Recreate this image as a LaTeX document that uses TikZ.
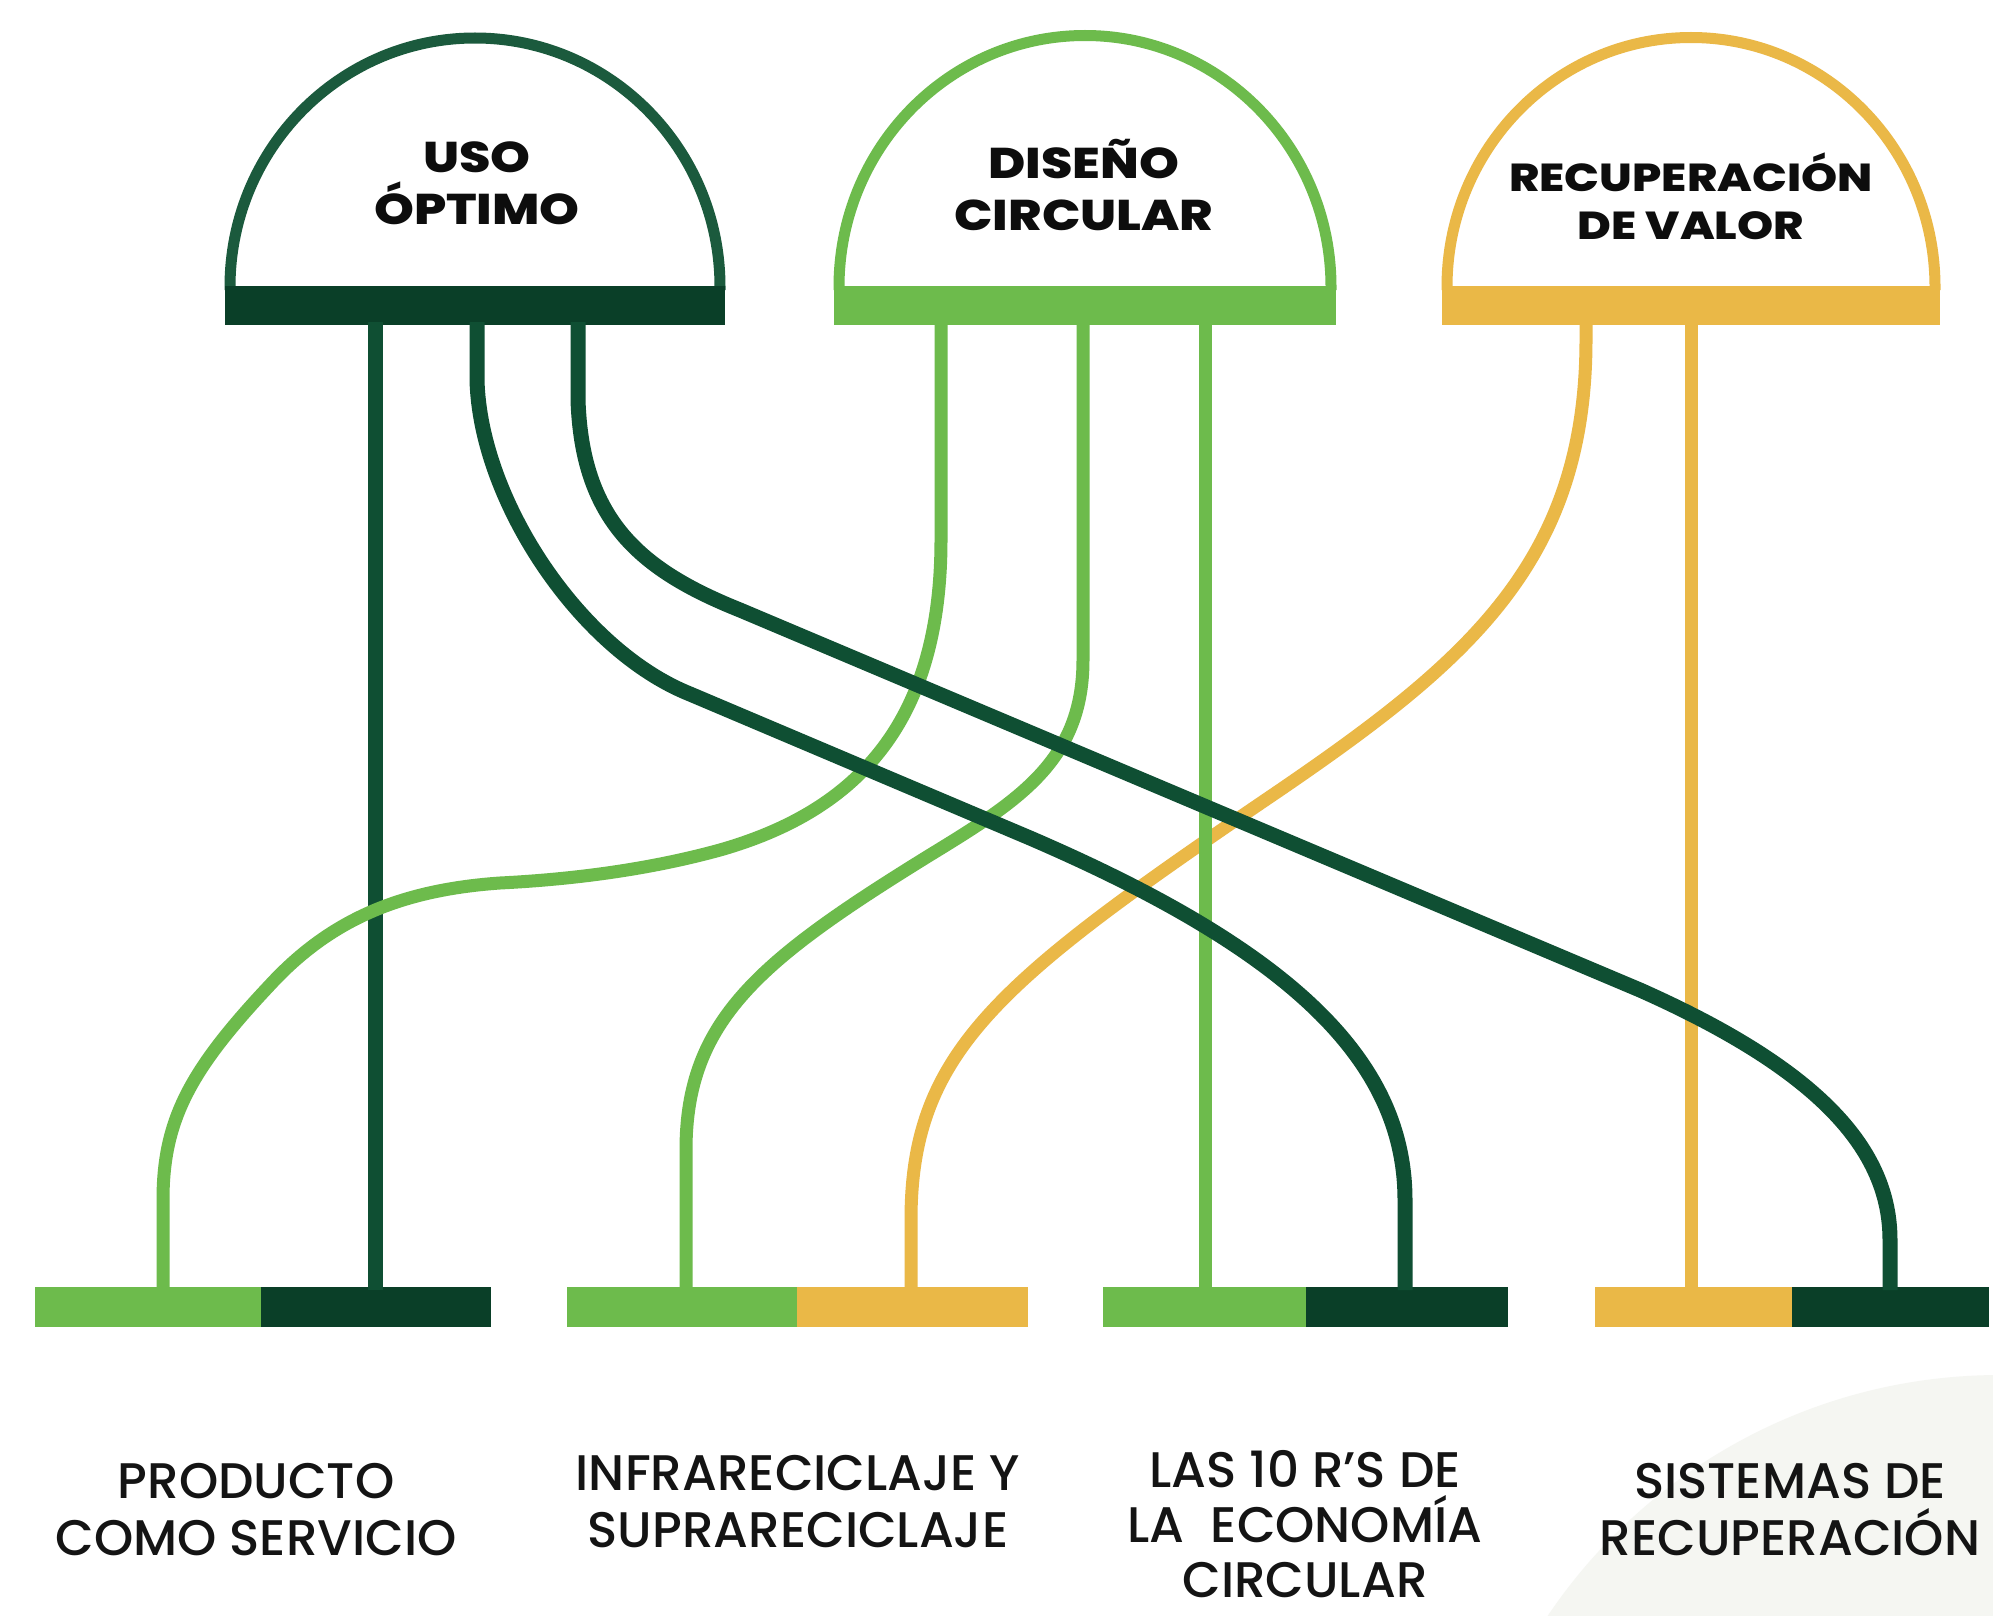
\documentclass[tikz,border=0pt]{standalone}
\usepackage{fontspec}
\setmainfont{Poppins}
\newfontfamily\medfont{Poppins Medium}
\newfontfamily\domefont{Poppins ExtraBold}[FakeStretch=1.18]
\definecolor{dkline}{HTML}{0F4F33}
\definecolor{dkbar}{HTML}{0A3F28}
\definecolor{dkdome}{HTML}{1B5A3D}
\definecolor{lgreen}{HTML}{6DBB4C}
\definecolor{ylw}{HTML}{EAB847}
\definecolor{bgcirc}{HTML}{F5F6F2}
\begin{document}
\begin{tikzpicture}[x=0.5pt,y=-0.5pt,
  dkconn/.style={draw=dkline, line width=7.5pt},
  lgconn/.style={draw=lgreen, line width=6.5pt},
  yconn/.style={draw=ylw, line width=6.5pt},
  domeline/.style={line width=5.5pt, fill=white},
  domelabel/.style={font=\domefont\fontsize{21.5}{26}\selectfont, align=center, inner sep=0pt, anchor=base, text=black!95},
  domelabelsm/.style={font=\domefont\fontsize{19.5}{24.5}\selectfont, align=center, inner sep=0pt, anchor=base, text=black!95},
  itemlabel/.style={font=\medfont\fontsize{25}{28.5}\selectfont, align=center, inner sep=0pt, anchor=base, text=black!92},
  barpart/.style={inner sep=0pt, outer sep=0pt, anchor=north west, minimum height=20pt},
  domebar/.style={inner sep=0pt, outer sep=0pt, anchor=north west, minimum height=19.5pt}]

\useasboundingbox (0,0) rectangle (1993,1616);
\fill[white] (0,0) rectangle (1993,1616);
\begin{scope}
  \clip (0,0) rectangle (1993,1616);
  \fill[bgcirc] (2000,1920) circle[radius=272.5pt];
\end{scope}

% domes
\draw[domeline, draw=dkdome] (230,290) -- (230,287) .. controls (230,149.5) and (339.7,38) .. (475,38) .. controls (610.3,38) and (720,149.5) .. (720,287) -- (720,290);
\node[domebar, fill=dkbar, minimum width=250pt] (dbar1) at (225,286) {};
\draw[domeline, draw=lgreen] (839,290) -- (839,287) .. controls (839,148.1) and (949.1,35.5) .. (1085,35.5) .. controls (1220.9,35.5) and (1331,148.1) .. (1331,287) -- (1331,290);
\node[domebar, fill=lgreen, minimum width=251pt] (dbar2) at (834,286) {};
\draw[domeline, draw=ylw] (1447,290) -- (1447,287) .. controls (1447,149.2) and (1556.2,37.5) .. (1691,37.5) .. controls (1825.8,37.5) and (1935,149.2) .. (1935,287) -- (1935,290);
\node[domebar, fill=ylw, minimum width=249pt] (dbar3) at (1442,286) {};

\node[domelabel] (t1) at (477,225) {USO\\ÓPTIMO};
\node[domelabel] (t2) at (1084,230) {DISEÑO\\CIRCULAR};
\node[domelabelsm] (t3) at (1691,240) {RECUPERACIÓN\\DE VALOR};

% bottom bars
\node[barpart, fill=lgreen, minimum width=113pt] (A1) at (35,1287) {};
\node[barpart, fill=dkbar, minimum width=115pt] (A2) at (261,1287) {};
\node[barpart, fill=lgreen, minimum width=115pt] (B1) at (567,1287) {};
\node[barpart, fill=ylw, minimum width=115.5pt] (B2) at (797,1287) {};
\node[barpart, fill=lgreen, minimum width=101.5pt] (C1) at (1103,1287) {};
\node[barpart, fill=dkbar, minimum width=101pt] (C2) at (1306,1287) {};
\node[barpart, fill=ylw, minimum width=98.5pt] (D1) at (1595,1287) {};
\node[barpart, fill=dkbar, minimum width=98.5pt] (D2) at (1792,1287) {};

% connector end points
\coordinate (u1) at (375,322);
\coordinate (u2) at (477,322);
\coordinate (u3) at (578,322);
\coordinate (d1) at (941,322);
\coordinate (d2) at (1083,322);
\coordinate (d3) at (1205,322);
\coordinate (r1) at (1586,322);
\coordinate (r2) at (1691,322);
\coordinate (pA1) at (163,1290);
\coordinate (pA2) at (375,1290);
\coordinate (pB1) at (686,1290);
\coordinate (pB2) at (911,1290);
\coordinate (pC1) at (1205,1290);
\coordinate (pC2) at (1405,1290);
\coordinate (pD1) at (1691,1290);
\coordinate (pD2) at (1890,1290);

% connectors (back to front)
\draw[dkconn] (u1) -- (pA2);
\draw[yconn] (r2) -- (pD1);
\draw[yconn] (r1) -- (1586,340) .. controls (1586,560) and (1470,660) .. (1280,790) .. controls (1000,980) and (911,1050) .. (911,1220) -- (pB2);
\draw[lgconn] (d3) -- (pC1);
\draw[lgconn] (d1) -- (941,540) .. controls (941,720) and (860,810) .. (720,850) .. controls (640,872) and (560,880) .. (500,883) .. controls (400,890) and (330,920) .. (270,985) .. controls (190,1070) and (163,1120) .. (163,1200) -- (pA1);
\draw[lgconn] (d2) -- (1083,660) .. controls (1083,760) and (1020,800) .. (930,855) .. controls (760,960) and (686,1020) .. (686,1150) -- (pB1);
\draw[dkconn] (u2) -- (477,380) .. controls (480,500) and (580,650) .. (690,694) -- (1030,838) .. controls (1290,950) and (1405,1060) .. (1405,1200) -- (pC2);
\draw[dkconn] (u3) -- (578,400) .. controls (582,520) and (640,570) .. (740,610) -- (1640,990) .. controls (1820,1070) and (1890,1150) .. (1890,1240) -- (pD2);

% labels
\node[itemlabel] (l1) at (256,1555) {PRODUCTO\\COMO SERVICIO};
\node[itemlabel] (l2) at (798,1547) {INFRARECICLAJE Y\\SUPRARECICLAJE};
\node[itemlabel, font=\medfont\fontsize{25}{27.5}\selectfont, text depth=0pt] (l3) at (1305,1597) {LAS 10 R’S DE\\LA\ \ ECONOMÍA\\CIRCULAR};
\node[itemlabel] (l4) at (1790,1555) {SISTEMAS DE\\RECUPERACIÓN};
\end{tikzpicture}
\end{document}
